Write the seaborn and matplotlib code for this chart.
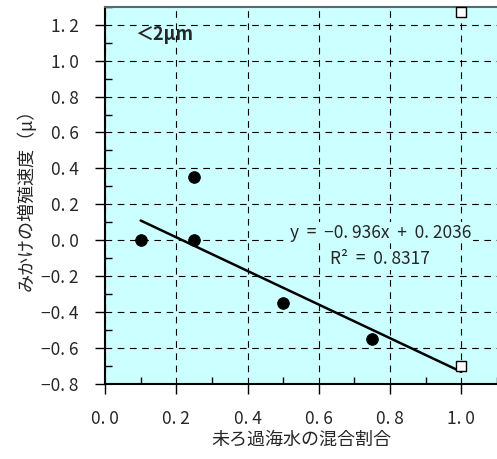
import numpy as np
import pandas as pd
import seaborn as sns
import matplotlib.pyplot as plt
from matplotlib.ticker import MultipleLocator, FuncFormatter

# data
mix_circ = [0.10, 0.25, 0.25, 0.50, 0.75]
mu_circ = [0.00, 0.35, 0.00, -0.35, -0.55]
mix_sq = [1.00, 1.00]
mu_sq = [1.27, -0.70]
slope = -0.936
intercept = 0.2036
r2 = 0.8317
fit_x = [0.10, 1.00]

sns.set_style("ticks")
plt.rcParams['font.family'] = ['Noto Sans CJK JP', 'DejaVu Sans']

fig = plt.figure(figsize=(4.97, 4.59), dpi=100)
ax = fig.add_axes([0.2113, 0.1634, 0.7887, 0.822])
ax.set_facecolor("#CCFFFF")

df_c = pd.DataFrame({"x": mix_circ, "y": mu_circ})
df_s = pd.DataFrame({"x": mix_sq, "y": mu_sq})
df_fit = pd.DataFrame({"x": fit_x, "y": [slope * v + intercept for v in fit_x]})

sns.lineplot(data=df_fit, x="x", y="y", color="black", lw=1.8, ax=ax, zorder=3)
sns.scatterplot(data=df_c, x="x", y="y", marker="o", s=70, color="black",
                edgecolor="black", ax=ax, zorder=4, clip_on=False)
sns.scatterplot(data=df_s, x="x", y="y", marker="s", s=62, color="white",
                edgecolor="black", linewidth=1, ax=ax, zorder=4, clip_on=False)

ax.set_xlim(0, 1.1)
ax.set_ylim(-0.8, 1.3)
ax.xaxis.set_major_locator(MultipleLocator(0.2))
ax.yaxis.set_major_locator(MultipleLocator(0.2))
ax.xaxis.set_minor_locator(MultipleLocator(0.1))
ax.yaxis.set_minor_locator(MultipleLocator(0.1))

fmt = FuncFormatter(lambda v, p: f"{v:.1f}".replace("-", "−").replace(".", ". "))
ax.xaxis.set_major_formatter(fmt)
ax.yaxis.set_major_formatter(fmt)

ax.tick_params(which="major", direction="out", length=7, width=1, labelsize=12.5,
               color="black")
ax.tick_params(axis="y", which="major", pad=12)
ax.tick_params(axis="x", which="major", pad=12)
ax.tick_params(which="minor", direction="in", length=5, width=1, color="black")

ax.grid(True, which="major", color="black", linestyle=(0, (6, 5)), lw=0.8)
ax.set_axisbelow(True)

for s in ["left", "bottom"]:
    ax.spines[s].set_color("black")
    ax.spines[s].set_linewidth(1.5)
ax.spines["top"].set_color("#5a6a6a")
ax.spines["top"].set_linewidth(1.5)
ax.spines["right"].set_visible(False)

ax.set_xlabel("未ろ過海水の混合割合", fontsize=13, labelpad=2)
ax.set_ylabel("みかけの増殖速度（μ）", fontsize=13, labelpad=4)

ax.text(0.084, 1.147, "＜2μm", fontsize=13, fontweight="bold", va="center", ha="left")
ax.text(0.773, 0.042, f"y  =  −0. {str(abs(slope))[2:]}x  +  0. {str(intercept)[2:]}",
        fontsize=12.5, ha="center", va="center",
        bbox=dict(facecolor="#CCFFFF", edgecolor="none", pad=1))
ax.text(0.773, -0.106, f"R²  =  0. {str(r2)[2:]}", fontsize=12.5, ha="center", va="center",
        bbox=dict(facecolor="#CCFFFF", edgecolor="none", pad=1))

fig.savefig("out.png", dpi=100)
